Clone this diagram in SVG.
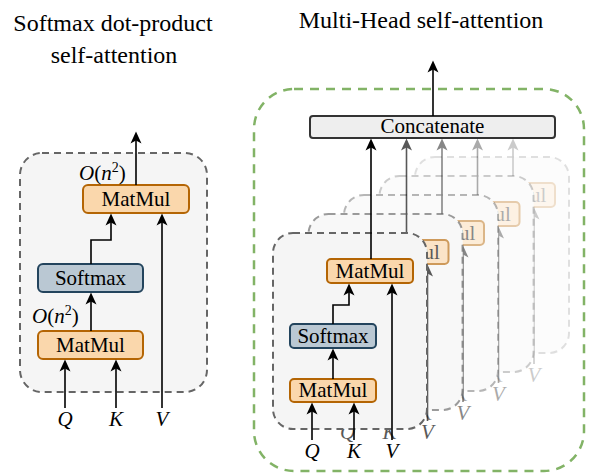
<svg xmlns="http://www.w3.org/2000/svg" width="589" height="473" viewBox="0 0 589 473">
<style>
.t{font-family:"Liberation Serif","DejaVu Serif",serif;fill:#000}
.title{font-size:24px}
.lbl{font-size:21px;text-anchor:middle}
.var{font-size:21px;font-style:italic;text-anchor:middle}
.cx{font-size:21px}
.box{fill:#F5F5F5;stroke:#666;stroke-width:2;stroke-dasharray:7 5}
.under{fill:#fff;stroke:none}
.mm{fill:#FAD7AC;stroke:#B46504;stroke-width:2}
.sm{fill:#BAC8D3;stroke:#23445D;stroke-width:2}
.cat{fill:#EEEEEE;stroke:#333;stroke-width:2}
.ar{fill:none;stroke:#000;stroke-width:1.6;marker-end:url(#ah)}
.green{fill:none;stroke:#82B366;stroke-width:2.5;stroke-dasharray:9 7}
</style>
<defs>
<marker id="ah" viewBox="0 0 13 13" markerWidth="13" markerHeight="13" refX="10" refY="6.5" orient="auto" markerUnits="userSpaceOnUse">
<path d="M0.5,1 L12.5,6.5 L0.5,12 L3.5,6.5 Z" fill="#000"/>
</marker>
<g id="headContent">
<rect class="box" x="0" y="0" width="154" height="196" rx="20"/>
<rect class="mm" x="54" y="26" width="86" height="24" rx="4"/>
<text class="t lbl" x="97" y="45">MatMul</text>
<rect class="sm" x="17" y="91" width="86" height="24" rx="4"/>
<text class="t lbl" x="60" y="110">Softmax</text>
<rect class="mm" x="17" y="146" width="86" height="23" rx="4"/>
<text class="t lbl" x="60" y="164">MatMul</text>
<path class="ar" d="M60 91 V72 H76 V53"/>
<path class="ar" d="M60 146 V118"/>
<path class="ar" d="M39 207 V172"/>
<path class="ar" d="M81 207 V172"/>
<path class="ar" d="M119 207 V53"/>
<text class="t var" x="39" y="225">Q</text>
<text class="t var" x="81" y="225">K</text>
<text class="t var" x="119" y="225">V</text>
</g>
</defs>

<text class="t title" x="113" y="31" text-anchor="middle">Softmax dot-product</text>
<text class="t title" x="114" y="63" text-anchor="middle">self-attention</text>
<text class="t title" x="421" y="28" text-anchor="middle">Multi-Head self-attention</text>

<g id="left-panel">
<rect class="box" x="20" y="153" width="187" height="239" rx="22"/>
</g>
<g id="left-matmul-top">
<rect class="mm" x="83" y="185" width="106" height="28" rx="5"/>
<text class="t lbl" x="136" y="206">MatMul</text>
</g>
<g id="left-softmax">
<rect class="sm" x="38" y="264" width="105" height="28" rx="5"/>
<text class="t lbl" x="90.5" y="285">Softmax</text>
</g>
<g id="left-matmul-bottom">
<rect class="mm" x="38" y="331" width="105" height="28" rx="5"/>
<text class="t lbl" x="90.5" y="352">MatMul</text>
</g>
<g id="left-labels">
<text class="t cx" x="79" y="180"><tspan font-style="italic">O</tspan>(<tspan font-style="italic">n</tspan><tspan font-size="14" dy="-8">2</tspan><tspan dy="8">)</tspan></text>
<text class="t cx" x="32" y="323"><tspan font-style="italic">O</tspan>(<tspan font-style="italic">n</tspan><tspan font-size="14" dy="-8">2</tspan><tspan dy="8">)</tspan></text>
<text class="t var" x="65" y="426">Q</text>
<text class="t var" x="116" y="426">K</text>
<text class="t var" x="162" y="426">V</text>
</g>
<g id="left-connectors">
<path class="ar" d="M136 185 V134"/>
<path class="ar" d="M91 264 V240 H111 V216"/>
<path class="ar" d="M91 331 V295"/>
<path class="ar" d="M65 408 V362"/>
<path class="ar" d="M116 408 V362"/>
<path class="ar" d="M162 408 V216"/>
</g>

<g id="multihead-frame">
<rect class="green" x="254" y="89" width="330" height="382" rx="40"/>
</g>
<g id="concatenate">
<rect class="cat" x="310" y="116" width="245" height="22" rx="3"/>
<text class="t lbl" x="432.5" y="133">Concatenate</text>
</g>
<g id="concat-out">
<path class="ar" d="M433 116 V63"/>
</g>

<g id="head5" transform="translate(415,157)">
<rect class="under" x="0" y="0" width="154" height="196" rx="20"/>
<g opacity="0.2"><use href="#headContent"/><path class="ar" d="M98 26 V-16"/></g>
</g>
<g id="head4" transform="translate(379.5,176)">
<rect class="under" x="0" y="0" width="154" height="196" rx="20"/>
<g opacity="0.33"><use href="#headContent"/><path class="ar" d="M98 26 V-35"/></g>
</g>
<g id="head3" transform="translate(344,195)">
<rect class="under" x="0" y="0" width="154" height="196" rx="20"/>
<g opacity="0.47"><use href="#headContent"/><path class="ar" d="M98 26 V-54"/></g>
</g>
<g id="head2" transform="translate(308.5,214)">
<rect class="under" x="0" y="0" width="154" height="196" rx="20"/>
<g opacity="0.65"><use href="#headContent"/><path class="ar" d="M98 26 V-73"/></g>
</g>
<g id="head1" transform="translate(273,233)">
<rect class="under" x="0" y="0" width="154" height="196" rx="20"/>
<g><use href="#headContent"/><path class="ar" d="M98 26 V-92"/></g>
</g>
</svg>
